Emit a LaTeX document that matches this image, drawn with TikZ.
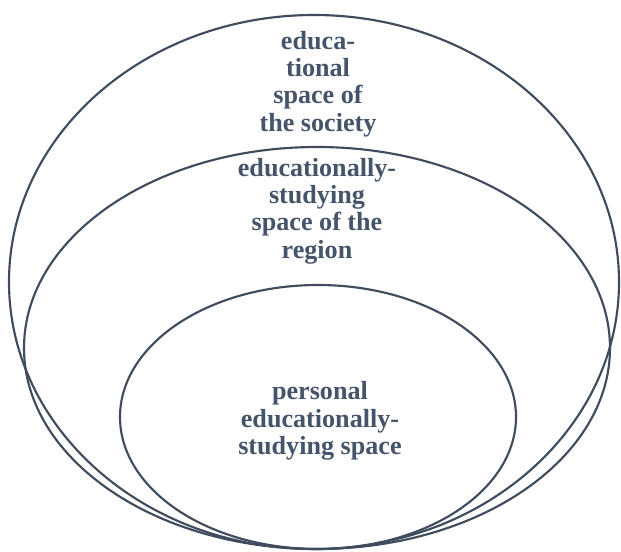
\documentclass[tikz,border=0pt]{standalone}
\usepackage{fontspec}
\setmainfont{Liberation Serif}
\definecolor{linec}{HTML}{3E4C5E}
\definecolor{textc}{HTML}{44546A}
\begin{document}
\begin{tikzpicture}[x=0.75pt,y=-0.75pt,
  ring/.style={draw=linec,line width=1.6pt},
  lbl/.style={text=textc,font=\bfseries\fontsize{19.6}{20.5}\selectfont,align=center,inner sep=0pt}]
\useasboundingbox (0,0) rectangle (621,552);
\draw[ring] (314,282) ellipse [x radius=305, y radius=267];
\draw[ring] (317,348) ellipse [x radius=293, y radius=201];
\draw[ring] (318,417) ellipse [x radius=198, y radius=132];
\node[lbl] (society) at (318,84) {educa-\\tional\\space of\\the society};
\node[lbl] (region) at (317,211) {educationally-\\studying\\space of the\\region};
\node[lbl] (personal) at (320,421) {personal\\educationally-\\studying space};
\end{tikzpicture}
\end{document}
